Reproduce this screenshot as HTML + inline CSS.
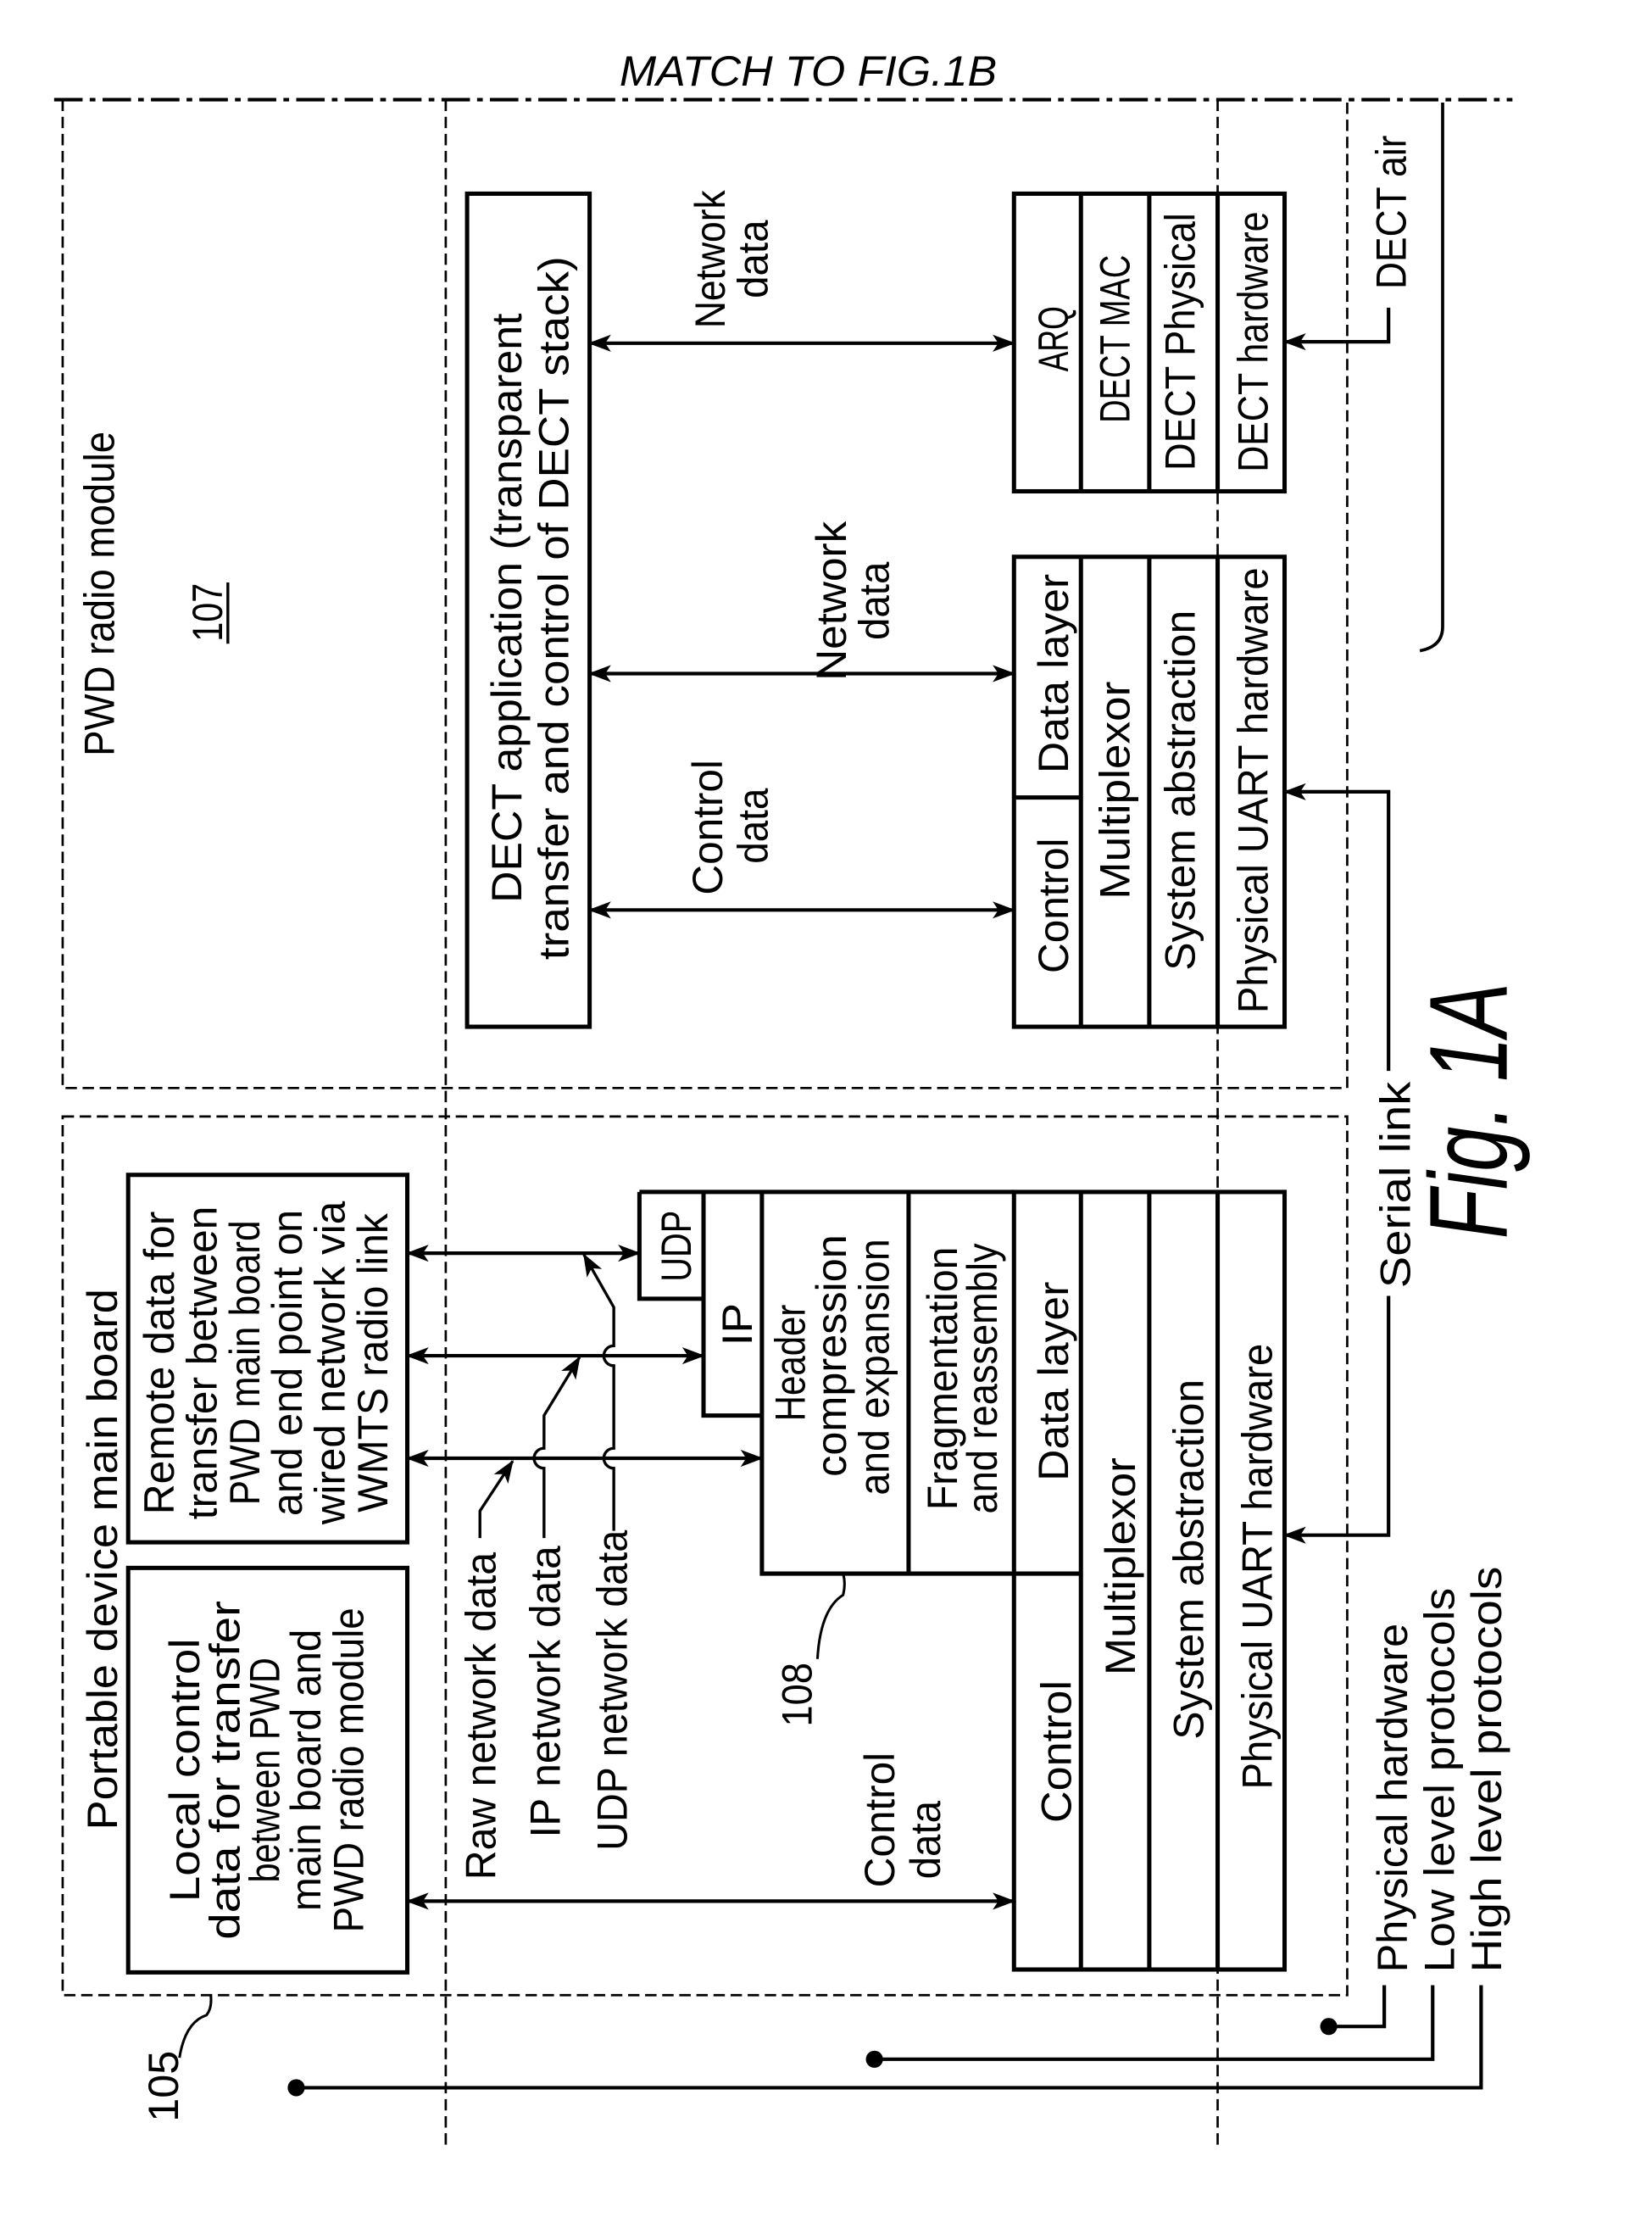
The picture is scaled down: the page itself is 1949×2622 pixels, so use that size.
<!DOCTYPE html>
<html><head><meta charset="utf-8"><style>
html,body{margin:0;padding:0;background:#fff;}
svg{display:block;}
text{font-family:"Liberation Sans",sans-serif;font-size:30px;fill:#000;}
</style></head><body>
<svg width="1949" height="2622" viewBox="0 0 1160 1561" preserveAspectRatio="none" xmlns="http://www.w3.org/2000/svg">
<defs>
<marker id="a" viewBox="0 0 16 12" refX="15" refY="6" markerWidth="16" markerHeight="12" markerUnits="userSpaceOnUse" orient="auto-start-reverse">
<path d="M0,0 L16,6 L0,12 L4,6 Z" fill="#000"/>
</marker>
</defs>
<g fill="none" stroke="#000">
<line x1="38" y1="70" x2="1062" y2="70" stroke-width="2.5" stroke-dasharray="20 5 4 5"/>
<path d="M44,70 V764 H946 V70" stroke-width="1.6" stroke-dasharray="8 4"/>
<rect x="44" y="784" width="902" height="617" stroke-width="1.6" stroke-dasharray="8 4"/>
<line x1="313" y1="70" x2="313" y2="1510" stroke-width="1.6" stroke-dasharray="8 4"/>
<line x1="855" y1="70" x2="855" y2="1510" stroke-width="1.6" stroke-dasharray="8 4"/>

<rect x="328" y="136" width="86" height="585" stroke-width="3"/>
<rect x="712" y="136" width="190" height="209" stroke-width="3"/>
<line x1="759" y1="136" x2="759" y2="345" stroke-width="3"/>
<line x1="807" y1="136" x2="807" y2="345" stroke-width="3"/>
<line x1="855" y1="136" x2="855" y2="345" stroke-width="3"/>
<rect x="712" y="391" width="190" height="330" stroke-width="3"/>
<line x1="759" y1="391" x2="759" y2="721" stroke-width="3"/>
<line x1="807" y1="391" x2="807" y2="721" stroke-width="3"/>
<line x1="855" y1="391" x2="855" y2="721" stroke-width="3"/>
<line x1="712" y1="560" x2="759" y2="560" stroke-width="3"/>

<line x1="414" y1="241" x2="712" y2="241" stroke-width="2.5" marker-start="url(#a)" marker-end="url(#a)"/>
<line x1="414" y1="473" x2="712" y2="473" stroke-width="2.5" marker-start="url(#a)" marker-end="url(#a)"/>
<line x1="414" y1="639" x2="712" y2="639" stroke-width="2.5" marker-start="url(#a)" marker-end="url(#a)"/>
<path d="M975,216 V240 H902" stroke-width="2.5" marker-end="url(#a)"/>
<path d="M975,752 V556 H902" stroke-width="2.5" marker-end="url(#a)"/>
<path d="M975,910 V1078 H902" stroke-width="2.5" marker-end="url(#a)"/>
<path d="M1013,72 V440 Q1013,454 997,457" stroke-width="2.2"/>

<rect x="90" y="825" width="196" height="258" stroke-width="3"/>
<rect x="90" y="1101" width="196" height="284" stroke-width="3"/>
<rect x="712" y="837" width="190" height="546" stroke-width="3"/>
<line x1="759" y1="837" x2="759" y2="1383" stroke-width="3"/>
<line x1="807" y1="837" x2="807" y2="1383" stroke-width="3"/>
<line x1="855" y1="837" x2="855" y2="1383" stroke-width="3"/>
<path d="M535,837 V1105 H759" stroke-width="3"/>
<line x1="638" y1="837" x2="638" y2="1105" stroke-width="3"/>
<path d="M494,837 V994 H535" stroke-width="3"/>
<path d="M449,837 H712 M449,837 V912 H494" stroke-width="3"/>

<line x1="286" y1="880" x2="449" y2="880" stroke-width="2.5" marker-start="url(#a)" marker-end="url(#a)"/>
<line x1="286" y1="952" x2="494" y2="952" stroke-width="2.5" marker-start="url(#a)" marker-end="url(#a)"/>
<line x1="286" y1="1024" x2="535" y2="1024" stroke-width="2.5" marker-start="url(#a)" marker-end="url(#a)"/>
<line x1="286" y1="1335" x2="712" y2="1335" stroke-width="2.5" marker-start="url(#a)" marker-end="url(#a)"/>
<path d="M337,1080 V1061 L360,1026" stroke-width="2" marker-end="url(#a)"/>
<path d="M382,1080 V1031 A7,7 0 0 1 382,1017 V994 L407,953" stroke-width="2" marker-end="url(#a)"/>
<path d="M431,1075 V1031 A7,7 0 0 1 431,1017 V959 A7,7 0 0 1 431,945 V918 L410,881" stroke-width="2" marker-end="url(#a)"/>
<path d="M574,1165 Q576,1130 592,1120 Q594,1112 592,1105" stroke-width="1.8"/>
<path d="M126,1445 Q130,1420 145,1415 Q149,1410 148,1401" stroke-width="1.8"/>
<path d="M933,1423 H972 V1394" stroke-width="2.5"/>
<path d="M614,1446 H1006 V1394" stroke-width="2.5"/>
<path d="M208,1466 H1040 V1394" stroke-width="2.5"/>
</g>
<circle cx="933" cy="1423" r="6" fill="#000"/>
<circle cx="614" cy="1446" r="6" fill="#000"/>
<circle cx="208" cy="1466" r="6" fill="#000"/>
<line x1="160" y1="409" x2="160" y2="452" stroke="#000" stroke-width="2"/>

<text x="435" y="60" font-style="italic" textLength="265" lengthAdjust="spacingAndGlyphs">MATCH TO FIG.1B</text>

<g text-anchor="middle">
<text transform="translate(80,417) rotate(-90)" textLength="228" lengthAdjust="spacingAndGlyphs">PWD radio module</text>
<text transform="translate(156,430) rotate(-90)" textLength="41" lengthAdjust="spacingAndGlyphs">107</text>
<text transform="translate(366,427) rotate(-90)" textLength="414" lengthAdjust="spacingAndGlyphs">DECT application (transparent</text>
<text transform="translate(399,427) rotate(-90)" textLength="494" lengthAdjust="spacingAndGlyphs">transfer and control of DECT stack)</text>
<text transform="translate(509,182) rotate(-90)" textLength="97" lengthAdjust="spacingAndGlyphs">Network</text>
<text transform="translate(539,182) rotate(-90)" textLength="55" lengthAdjust="spacingAndGlyphs">data</text>
<text transform="translate(594,422) rotate(-90)" textLength="112" lengthAdjust="spacingAndGlyphs">Network</text>
<text transform="translate(624,422) rotate(-90)" textLength="55" lengthAdjust="spacingAndGlyphs">data</text>
<text transform="translate(507,581) rotate(-90)" textLength="95" lengthAdjust="spacingAndGlyphs">Control</text>
<text transform="translate(539,580) rotate(-90)" textLength="53" lengthAdjust="spacingAndGlyphs">data</text>

<text transform="translate(750,238) rotate(-90)" textLength="46" lengthAdjust="spacingAndGlyphs">ARQ</text>
<text transform="translate(793,238) rotate(-90)" textLength="118" lengthAdjust="spacingAndGlyphs">DECT MAC</text>
<text transform="translate(839,240) rotate(-90)" textLength="181" lengthAdjust="spacingAndGlyphs">DECT Physical</text>
<text transform="translate(890,240) rotate(-90)" textLength="183" lengthAdjust="spacingAndGlyphs">DECT hardware</text>

<text transform="translate(750,473) rotate(-90)" textLength="140" lengthAdjust="spacingAndGlyphs">Data layer</text>
<text transform="translate(750,636) rotate(-90)" textLength="95" lengthAdjust="spacingAndGlyphs">Control</text>
<text transform="translate(793,555) rotate(-90)" textLength="153" lengthAdjust="spacingAndGlyphs">Multiplexor</text>
<text transform="translate(839,555) rotate(-90)" textLength="253" lengthAdjust="spacingAndGlyphs">System abstraction</text>
<text transform="translate(890,555) rotate(-90)" textLength="313" lengthAdjust="spacingAndGlyphs">Physical UART hardware</text>

<text transform="translate(987,149) rotate(-90)" textLength="108" lengthAdjust="spacingAndGlyphs">DECT air</text>
<text transform="translate(990,832) rotate(-90)" textLength="145" lengthAdjust="spacingAndGlyphs">Serial link</text>
<text transform="translate(1058,780) rotate(-90)" style="font-size:78px;font-style:italic" textLength="180" lengthAdjust="spacingAndGlyphs">Fig. 1A</text>

<text transform="translate(82,1095) rotate(-90)" textLength="380" lengthAdjust="spacingAndGlyphs">Portable device main board</text>
<text transform="translate(140,1243) rotate(-90)" textLength="185" lengthAdjust="spacingAndGlyphs">Local control</text>
<text transform="translate(168,1243) rotate(-90)" textLength="238" lengthAdjust="spacingAndGlyphs">data for transfer</text>
<text transform="translate(196,1243) rotate(-90)" textLength="158" lengthAdjust="spacingAndGlyphs">between PWD</text>
<text transform="translate(225,1243) rotate(-90)" textLength="198" lengthAdjust="spacingAndGlyphs">main board and</text>
<text transform="translate(255,1243) rotate(-90)" textLength="228" lengthAdjust="spacingAndGlyphs">PWD radio module</text>

<text transform="translate(122,957) rotate(-90)" textLength="213" lengthAdjust="spacingAndGlyphs">Remote data for</text>
<text transform="translate(152,957) rotate(-90)" textLength="220" lengthAdjust="spacingAndGlyphs">transfer between</text>
<text transform="translate(182,957) rotate(-90)" textLength="200" lengthAdjust="spacingAndGlyphs">PWD main board</text>
<text transform="translate(212,957) rotate(-90)" textLength="215" lengthAdjust="spacingAndGlyphs">and end point on</text>
<text transform="translate(242,957) rotate(-90)" textLength="227" lengthAdjust="spacingAndGlyphs">wired network via</text>
<text transform="translate(272,957) rotate(-90)" textLength="210" lengthAdjust="spacingAndGlyphs">WMTS radio link</text>

<text transform="translate(348,1205) rotate(-90)" textLength="230" lengthAdjust="spacingAndGlyphs">Raw network data</text>
<text transform="translate(393,1188) rotate(-90)" textLength="205" lengthAdjust="spacingAndGlyphs">IP network data</text>
<text transform="translate(440,1187) rotate(-90)" textLength="225" lengthAdjust="spacingAndGlyphs">UDP network data</text>

<text transform="translate(628,1278) rotate(-90)" textLength="95" lengthAdjust="spacingAndGlyphs">Control</text>
<text transform="translate(660,1292) rotate(-90)" textLength="55" lengthAdjust="spacingAndGlyphs">data</text>

<text transform="translate(485,875) rotate(-90)" textLength="50" lengthAdjust="spacingAndGlyphs">UDP</text>
<text transform="translate(528,930) rotate(-90)" textLength="30" lengthAdjust="spacingAndGlyphs">IP</text>
<text transform="translate(565,957) rotate(-90)" textLength="82" lengthAdjust="spacingAndGlyphs">Header</text>
<text transform="translate(594,952) rotate(-90)" textLength="170" lengthAdjust="spacingAndGlyphs">compression</text>
<text transform="translate(624,960) rotate(-90)" textLength="180" lengthAdjust="spacingAndGlyphs">and expansion</text>
<text transform="translate(672,968) rotate(-90)" textLength="185" lengthAdjust="spacingAndGlyphs">Fragmentation</text>
<text transform="translate(700,968) rotate(-90)" textLength="190" lengthAdjust="spacingAndGlyphs">and reassembly</text>

<text transform="translate(752,1230) rotate(-90)" textLength="100" lengthAdjust="spacingAndGlyphs">Control</text>
<text transform="translate(750,970) rotate(-90)" textLength="140" lengthAdjust="spacingAndGlyphs">Data layer</text>
<text transform="translate(797,1100) rotate(-90)" textLength="153" lengthAdjust="spacingAndGlyphs">Multiplexor</text>
<text transform="translate(845,1095) rotate(-90)" textLength="253" lengthAdjust="spacingAndGlyphs">System abstraction</text>
<text transform="translate(893,1100) rotate(-90)" textLength="313" lengthAdjust="spacingAndGlyphs">Physical UART hardware</text>

<text transform="translate(570,1190) rotate(-90)" textLength="45" lengthAdjust="spacingAndGlyphs">108</text>
<text transform="translate(125,1465) rotate(-90)" textLength="50" lengthAdjust="spacingAndGlyphs">105</text>
</g>
<g text-anchor="start">
<text transform="translate(988,1385) rotate(-90)" textLength="245" lengthAdjust="spacingAndGlyphs">Physical hardware</text>
<text transform="translate(1021,1385) rotate(-90)" textLength="270" lengthAdjust="spacingAndGlyphs">Low level protocols</text>
<text transform="translate(1054,1385) rotate(-90)" textLength="285" lengthAdjust="spacingAndGlyphs">High level protocols</text>
</g>
</svg>
</body></html>
